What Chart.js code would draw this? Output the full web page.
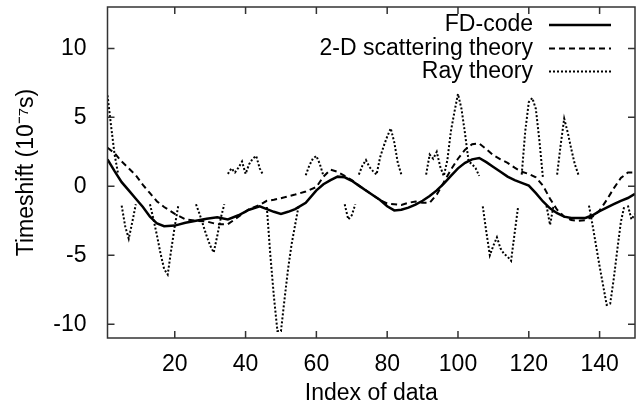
<!DOCTYPE html>
<html>
<head>
<meta charset="utf-8">
<title>Timeshift</title>
<script src="https://cdn.jsdelivr.net/npm/chart.js@4.4.1/dist/chart.umd.min.js"></script>
<style>
  html, body { margin: 0; padding: 0; background: #fff; }
  #wrap { width: 636px; height: 411px; }
</style>
</head>
<body>
<div id="wrap"><canvas id="chart" width="636" height="411"></canvas></div>
<script>
// ---- data ----
const xTicks = [20, 40, 60, 80, 100, 120, 140];
const yTicks = [-10, -5, 0, 5, 10];

// FD-code (solid)
const fdX = [1, 3, 5, 7, 9, 11, 13, 15, 17, 20, 23, 26, 29, 32, 35, 38, 41, 44, 46, 48, 50, 52, 54, 57, 60, 62, 64, 66, 68, 70,
             72, 74, 76, 78, 80, 82, 84, 86, 88, 90, 92, 94, 96, 98, 100, 102, 104, 106, 108, 110, 112, 114, 116, 118, 120,
             122, 124, 126, 128, 130, 132, 134, 136, 138, 140, 142, 144, 146, 148, 150];
const fdY = [1.95, 1.1, 0.3, -0.3, -0.9, -1.5, -2.2, -2.7, -2.9, -2.85, -2.65, -2.5, -2.35, -2.25, -2.4, -2.1, -1.7, -1.45, -1.65, -1.85,
             -2.0, -1.85, -1.65, -1.2, -0.3, 0.15, 0.45, 0.7, 0.65, 0.4, 0.05, -0.3, -0.65, -1.0, -1.45, -1.75, -1.7, -1.55, -1.33, -1.05,
             -0.7, -0.3, 0.2, 0.75, 1.3, 1.7, 1.95, 2.05, 1.75, 1.4, 1.05, 0.7, 0.45, 0.25, 0.05, -0.5, -1.1, -1.6, -1.95, -2.2,
             -2.3, -2.3, -2.3, -2.1, -1.8, -1.55, -1.3, -1.05, -0.85, -0.55];

// 2-D scattering theory (dashed)
const scatX = [1, 3, 5, 7, 9, 11, 13, 15, 17, 20, 23, 26, 29, 32, 35, 38, 41, 44, 46, 48, 51, 54, 57, 60, 62, 64, 66, 68, 70,
               72, 74, 76, 78, 80, 82, 84, 86, 88, 90, 92, 94, 96, 98, 100, 102, 104, 106, 108, 110, 112, 114, 116, 118, 120,
               122, 124, 126, 128, 130, 132, 134, 136, 138, 140, 142, 144, 146, 148, 150];
const scatY = [2.8, 2.4, 1.8, 1.3, 0.8, 0.1, -0.5, -1.1, -1.5, -2.0, -2.4, -2.5, -2.55, -2.75, -2.75, -2.2, -1.65, -1.35, -1.05, -0.98,
               -0.8, -0.6, -0.38, -0.05, 0.7, 1.2, 1.05, 0.75, 0.45, 0.05, -0.3, -0.65, -1.0, -1.25, -1.3, -1.35, -1.2, -1.1, -1.2,
               -1.2, -0.6, 0.3, 1.2, 2.0, 2.65, 3.05, 3.1, 2.7, 2.25, 1.95, 1.7, 1.35, 1.05, 0.9, 0.65, 0.05, -0.9, -1.7, -2.2,
               -2.45, -2.5, -2.45, -2.2, -1.75, -1.0, -0.15, 0.6, 1.0, 1.0];

// Ray theory (dotted), null = no ray value (line break)
const rayX = [1, 2, 3, 4, 4.5,
              5, 6, 7, 8, 9, 11,
              13, 14, 15, 16, 17, 18, 19, 20, 21, 23,
              26, 27, 28, 29, 30, 31, 32, 33, 34, 34.5,
              35, 36, 37, 38, 39, 40, 41, 42, 43, 44, 45, 45.5,
              46, 47, 48, 49, 50, 51, 52, 53, 54, 55, 56,
              57, 58, 59, 60, 61, 62, 65,
              68, 69, 70, 71, 71.5,
              72, 73, 74, 75, 76, 77, 78, 79, 80, 81, 82, 83, 84, 87,
              91, 92, 93, 94, 95, 96, 97, 98, 99, 100, 101, 102, 103, 104, 105, 106, 106.5,
              107, 108, 109, 110, 111, 112, 113, 114, 115, 116, 117, 117.5,
              118, 119, 120, 121, 122, 123, 124, 124.5,
              125, 126, 127, 127.5,
              128, 129, 130, 131, 132, 133, 134, 135.5,
              137, 138, 139, 140, 141, 142, 143, 144, 145, 146, 147, 147.5,
              148, 149, 150];
const rayY = [6.6, 4.4, 2.3, 0.9, null,
              -1.4, -2.9, -3.8, -2.6, -1.3, null,
              -1.3, -2.4, -3.6, -4.9, -6.0, -6.4, -4.6, -2.9, -1.4, null,
              -1.3, -2.0, -2.8, -3.6, -4.3, -4.8, -3.6, -2.3, -1.3, null,
              0.9, 1.3, 1.0, 1.35, 1.8, 0.9, 1.6, 2.0, 2.2, 1.3, 0.8, null,
              -1.5, -5.0, -8.0, -10.5, -10.5, -8.2, -6.0, -4.2, -2.8, -1.4, null,
              0.8, 1.5, 2.0, 2.2, 1.6, 0.75, null,
              -1.3, -2.4, -2.1, -1.3, null,
              0.85, 1.5, 1.9, 1.4, 1.1, 0.85, 2.1, 2.9, 3.6, 4.2, 3.2, 1.7, 0.85, null,
              0.85, 2.3, 2.0, 2.5, 1.4, 0.75, 1.9, 4.0, 5.4, 6.7, 5.6, 3.8, 1.8, 1.6, 1.3, 0.75, null,
              -1.45, -3.3, -5.0, -4.3, -3.7, -4.5, -4.9, -5.1, -5.4, -3.4, -1.45, null,
              0.85, 4.0, 6.1, 6.4, 5.6, 3.3, 0.6, null,
              -1.4, -2.8, -1.4, null,
              0.85, 3.0, 4.9, 3.9, 2.7, 1.6, 0.85, null,
              -1.4, -2.8, -4.3, -5.8, -7.2, -8.6, -8.5, -6.7, -4.6, -2.6, -1.4, null,
              -1.4, -2.4, -2.0];

const FONT = '"Liberation Sans", Arial, Helvetica, sans-serif';
const pts = (xs, ys) => xs.map((x, i) => ({ x, y: ys[i] }));

/* ---- gnuplot style frame with inward ticks on all sides ---- */
const framePlugin = {
  id: 'frame',
  afterDatasetsDraw(chart) {
    const { ctx, chartArea: a, scales: { x, y } } = chart;
    const len = 7;
    ctx.save();
    ctx.strokeStyle = '#333';
    ctx.lineWidth = 1.5;
    ctx.strokeRect(a.left, a.top, a.right - a.left, a.bottom - a.top);
    ctx.beginPath();
    x.ticks.forEach(t => {
      const px = x.getPixelForValue(t.value);
      ctx.moveTo(px, a.bottom); ctx.lineTo(px, a.bottom - len);
      ctx.moveTo(px, a.top);    ctx.lineTo(px, a.top + len);
    });
    y.ticks.forEach(t => {
      const py = y.getPixelForValue(t.value);
      ctx.moveTo(a.left, py);  ctx.lineTo(a.left + len, py);
      ctx.moveTo(a.right, py); ctx.lineTo(a.right - len, py);
    });
    ctx.stroke();
    ctx.restore();
  }
};

/* ---- legend: text right aligned, sample line on the right ---- */
const legendPlugin = {
  id: 'keyBox',
  afterDraw(chart) {
    const { ctx } = chart;
    const textRight = 533, x0 = 549, x1 = 611;
    const rows = [25, 48.5, 71.5];
    ctx.save();
    ctx.font = `23px ${FONT}`;
    ctx.fillStyle = '#000';
    ctx.textAlign = 'right';
    ctx.textBaseline = 'middle';
    chart.data.datasets.forEach((ds, i) => {
      const y = rows[i];
      ctx.fillText(ds.label, textRight, y);
      ctx.strokeStyle = ds.borderColor;
      ctx.lineWidth = ds.borderWidth;
      ctx.setLineDash(ds.borderDash || []);
      ctx.beginPath();
      ctx.moveTo(x0, y);
      ctx.lineTo(x1, y);
      ctx.stroke();
    });
    ctx.restore();
  }
};

const tickFont = { family: FONT, size: 23 };

new Chart(document.getElementById('chart').getContext('2d'), {
  type: 'line',
  data: {
    datasets: [
      { label: 'FD-code', data: pts(fdX, fdY), borderColor: '#000', borderWidth: 2.5 },
      { label: '2-D scattering theory', data: pts(scatX, scatY), borderColor: '#000', borderWidth: 2, borderDash: [6, 4] },
      { label: 'Ray theory', data: pts(rayX, rayY), borderColor: '#000', borderWidth: 2, borderDash: [2, 2], spanGaps: false }
    ]
  },
  options: {
    responsive: false,
    animation: false,
    devicePixelRatio: 1,
    layout: { padding: { left: 0, right: 1, top: 7, bottom: 0 } },
    elements: { point: { radius: 0 }, line: { tension: 0, fill: false } },
    plugins: { legend: { display: false }, tooltip: { enabled: false } },
    scales: {
      x: {
        type: 'linear',
        min: 1,
        max: 150,
        afterBuildTicks: s => { s.ticks = xTicks.map(v => ({ value: v })); },
        afterFit: s => { s.height = 73; s.paddingLeft = 0; s.paddingRight = 0; },
        grid: { display: false },
        border: { display: false },
        ticks: { font: tickFont, color: '#000', padding: 5, maxRotation: 0 },
        title: { display: true, text: 'Index of data', font: tickFont, color: '#000', padding: { top: 0, bottom: 4 } }
      },
      y: {
        min: -11,
        max: 13,
        afterBuildTicks: s => { s.ticks = yTicks.map(v => ({ value: v })); },
        afterFit: s => { s.width = 107.5; s.paddingTop = 0; s.paddingBottom = 0; },
        grid: { display: false },
        border: { display: false },
        ticks: { font: tickFont, color: '#000', padding: 13 },
        title: { display: true, text: 'Timeshift (10⁻⁷s)', font: tickFont, color: '#000', padding: { top: 13, bottom: 0 } }
      }
    }
  },
  plugins: [framePlugin, legendPlugin]
});
</script>
</body>
</html>
